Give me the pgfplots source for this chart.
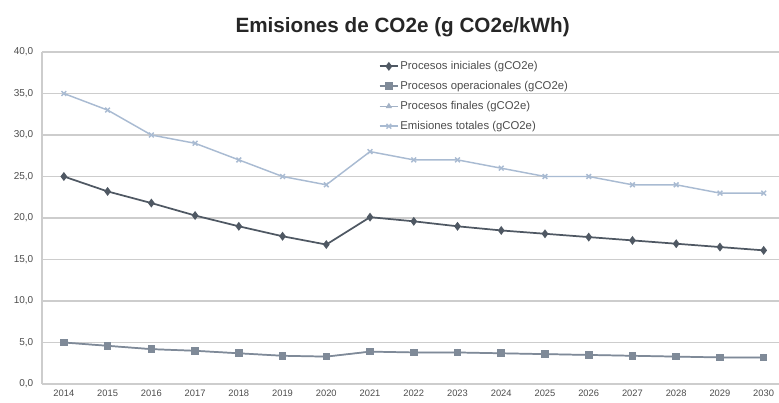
\documentclass[border=0pt]{standalone}
\usepackage{pgfplots}
\pgfplotsset{compat=1.18}
\usepackage{fontspec}
\setmainfont{Liberation Sans}
\definecolor{cini}{HTML}{4F5863}
\definecolor{cope}{HTML}{7F8A98}
\definecolor{cfin}{HTML}{A3B2C6}
\definecolor{ctot}{HTML}{A9BBD2}
\definecolor{cgrid}{HTML}{CDCDCD}
\begin{document}
\begin{tikzpicture}[x=1pt,y=1pt]
\useasboundingbox (0,0) rectangle (584.25,302.25);
\node[font=\bfseries\fontsize{15.5}{17}\selectfont, text=black!85] at (302,282) {Emisiones de CO2e (g CO2e/kWh)};
\begin{axis}[
  at={(31.5pt,14.25pt)}, anchor=south west,
  scale only axis, width=552.75pt, height=249pt,
  xmin=2013.5, xmax=2030.35, ymin=0, ymax=40,
  xtick={2014,...,2030},
  xticklabel style={/pgf/number format/.cd, 1000 sep={}, assume math mode=true, /tikz/.cd, font=\fontsize{7}{8}\selectfont, text=black!70},
  ytick={0,5,...,40},
  yticklabel style={/pgf/number format/.cd, fixed, fixed zerofill, precision=1, use comma, assume math mode=true, /tikz/.cd, font=\fontsize{7.5}{8.5}\selectfont, text=black!70},
  major tick length=0pt,
  axis x line*=bottom, axis y line*=left,
  x axis line style={cgrid, line width=1.5pt, -},
  y axis line style={cgrid, line width=1.5pt, -},
  ymajorgrids, grid style={cgrid, line width=1.3pt},
  tick align=outside,
  xticklabel shift=1pt, yticklabel shift=3pt,
  legend style={at={(0.451,0.985)}, anchor=north west, draw=none, fill=none,
     font=\fontsize{8.5}{9.5}\selectfont, text=black!70, row sep=5.3pt,
     nodes={inner sep=1pt}},
  legend cell align=left,
  legend image code/.code={\draw[mark repeat=2, mark phase=2, #1] plot coordinates {(0pt,0pt) (7pt,0pt) (14pt,0pt)};},
]
\addlegendimage{color=cini, line width=1.3pt, mark=diamond*, mark size=2.3pt}
\addlegendentry{Procesos iniciales (gCO2e)}
\addlegendimage{color=cope, line width=1.3pt, mark=square*, mark size=2.2pt}
\addlegendentry{Procesos operacionales (gCO2e)}
\addlegendimage{color=cfin, line width=0.9pt, mark=triangle*, mark size=1.8pt}
\addlegendentry{Procesos finales (gCO2e)}
\addlegendimage{color=ctot, line width=1.1pt, mark=x, mark size=2.5pt}
\addlegendentry{Emisiones totales (gCO2e)}
\addplot[forget plot, color=cfin, line width=0.9pt, mark=triangle*, mark size=1.8pt] coordinates {
(2014,5.0) (2015,4.6) (2016,4.2) (2017,4.0) (2018,3.7) (2019,3.4) (2020,3.3)
(2021,3.9) (2022,3.8) (2023,3.8) (2024,3.7) (2025,3.6) (2026,3.5) (2027,3.4)
(2028,3.3) (2029,3.2) (2030,3.2)};
\addplot[forget plot, color=cope, line width=1.3pt, mark=square*, mark size=2.2pt] coordinates {
(2014,5.0) (2015,4.6) (2016,4.2) (2017,4.0) (2018,3.7) (2019,3.4) (2020,3.3)
(2021,3.9) (2022,3.8) (2023,3.8) (2024,3.7) (2025,3.6) (2026,3.5) (2027,3.4)
(2028,3.3) (2029,3.2) (2030,3.2)};
\addplot[forget plot, color=cini, line width=1.3pt, mark=diamond*, mark size=2.3pt] coordinates {
(2014,25.0) (2015,23.2) (2016,21.8) (2017,20.3) (2018,19.0) (2019,17.8) (2020,16.8)
(2021,20.1) (2022,19.6) (2023,19.0) (2024,18.5) (2025,18.1) (2026,17.7) (2027,17.3)
(2028,16.9) (2029,16.5) (2030,16.1)};
\addplot[forget plot, color=ctot, line width=1.1pt, mark=x, mark size=2.5pt] coordinates {
(2014,35) (2015,33) (2016,30) (2017,29) (2018,27) (2019,25) (2020,24)
(2021,28) (2022,27) (2023,27) (2024,26) (2025,25) (2026,25) (2027,24)
(2028,24) (2029,23) (2030,23)};
\end{axis}
\end{tikzpicture}
\end{document}
